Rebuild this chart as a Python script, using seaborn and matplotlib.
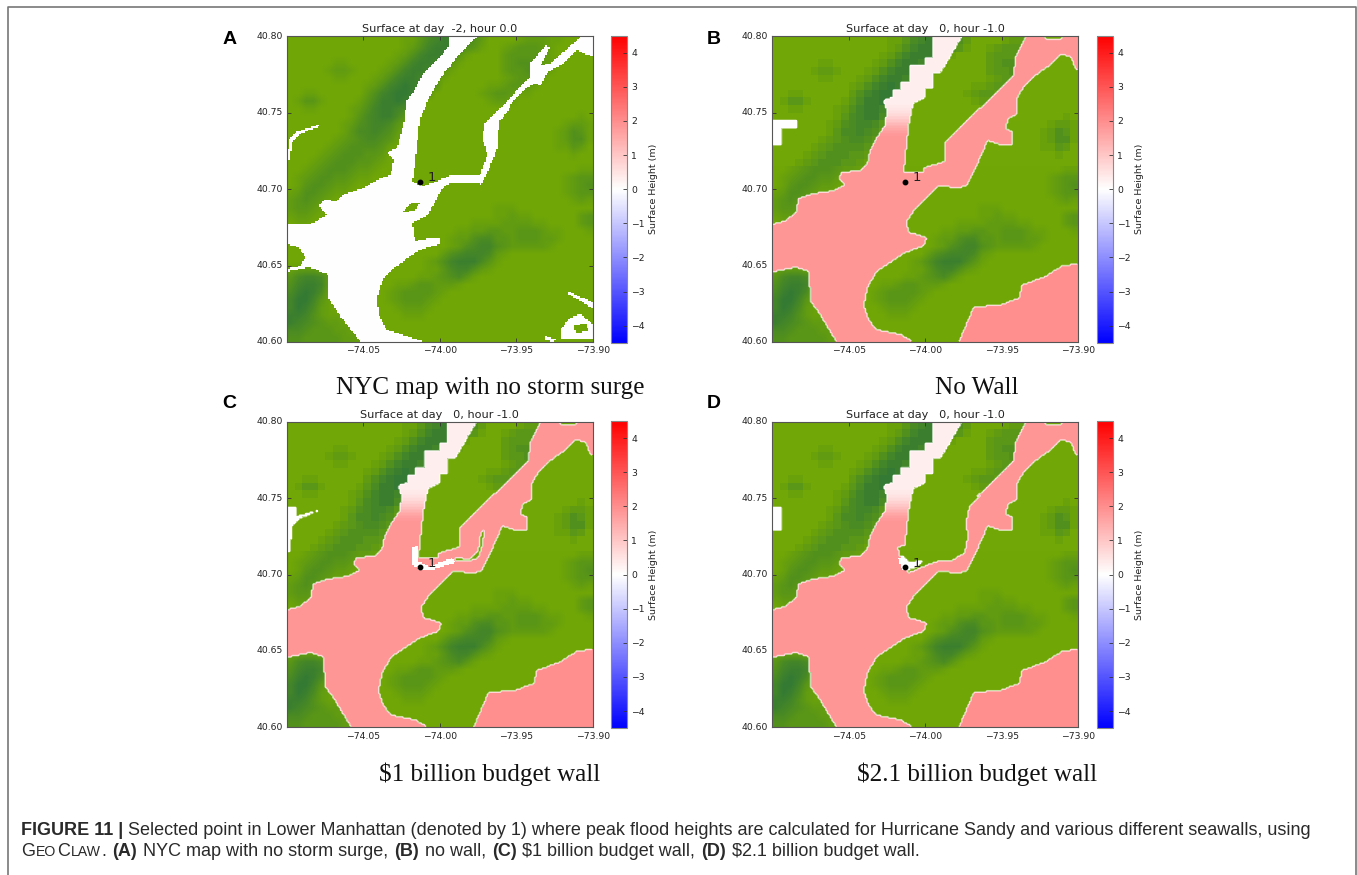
import numpy as np
import seaborn as sns
import matplotlib
matplotlib.use("Agg")
import matplotlib.pyplot as plt
from matplotlib.colors import LinearSegmentedColormap
from matplotlib.lines import Line2D
from matplotlib.path import Path

W, H = 1357, 875
N = 200      # water cells per side
COARSE = 40  # land cells per side

# land shade, 0 = light green, 9 = dark green, north at the top
land_rows = [
    "1111111111 1111122467 8886531111 2333221111",
    "1111111111 1111123578 8875421123 4443211111",
    "1111111111 1111235788 8742111134 4443211111",
    "1111112211 1112357887 6421111134 5543211111",
    "1111123321 1123578876 4211111134 4543211111",
    "1111112211 1235788764 2111111123 4432111111",
    "1111111111 2357898764 1111112234 4321111111",
    "1122111111 3578998641 1111123443 2211111111",
    "1244211112 4688987411 1111112332 1111111111",
    "1122111123 5788764111 1111111111 1111111111",
    "1111111124 6788642111 1111111111 1111111121",
    "1111111235 6776421111 1111111111 1111112332",
    "1111111246 6765311111 1111111111 1111123542",
    "1111112345 6654211111 1111111111 1111123552",
    "1111123455 5542111111 1111111111 1111122431",
    "1111234555 4431111111 1111111111 1111111211",
    "1112345554 4321111111 1111111111 1111111111",
    "1123455543 3211111111 1111111111 1111111122",
    "1234554432 2111111111 1111111111 1111112344",
    "1245543321 1111111111 1111111111 1111112345",
    "2355432211 1111111111 1111111111 1111112344",
    "3454321111 1111111111 1111111111 1111111232",
    "3443211111 1111111111 1111111222 1111111111",
    "2332111111 1111111111 1111111223 2211111134",
    "1221111111 1111111111 1111222233 3322111134",
    "1111111111 1111111111 1122334433 4443221112",
    "1111111111 1111111111 1233566443 4443321111",
    "1111111111 1111111111 1235677543 3333211111",
    "1111111111 1111111111 3567776321 1111111111",
    "1111111111 1111111123 5788864211 1111111111",
    "2333211111 1111111122 4677532111 1111111111",
    "4677631111 1111111223 4564211111 1111111111",
    "5788731111 1111223443 3321111111 1111111111",
    "6898621111 1112344443 2111111111 1111111111",
    "7997421111 1112344432 1111111111 1111111111",
    "7986321111 1111233321 1111111111 1111111111",
    "8875322111 1111122211 1111111111 1111111111",
    "8765433211 1111111111 1111111111 1111111111",
    "6654443321 1111111111 1111111111 1111111111",
    "5544444332 1111111111 1111111111 1111111111",
]

# surface height in the upper Hudson, north to south, one value per water row
hudson_surge = [0.3] * 44 + [0.33, 0.36, 0.4, 0.45, 0.5, 0.56, 0.63, 0.7, 0.78, 0.86, 0.95, 1.05,
                             1.15, 1.25, 1.35, 1.45, 1.55, 1.63, 1.7, 1.76, 1.8]
hudson_edge_rows = 40     # the upper Hudson reaches further east above this water row
hudson_east = [-73.965, -74.0]
bay_surge = 1.85
jamaica_surge = 2.0

# shoreline with no storm, (lon, lat)
dry_water = [
    (-73.994, 40.800), (-73.994, 40.794), (-74.000, 40.786), (-74.011, 40.776), (-74.017, 40.764),
    (-74.022, 40.757), (-74.023, 40.746), (-74.025, 40.738), (-74.028, 40.727), (-74.034, 40.724),
    (-74.030, 40.720), (-74.032, 40.709), (-74.041, 40.706), (-74.052, 40.700), (-74.064, 40.696),
    (-74.067, 40.692), (-74.076, 40.693), (-74.079, 40.689), (-74.074, 40.683), (-74.085, 40.677),
    (-74.100, 40.677), (-74.100, 40.646), (-74.085, 40.649), (-74.073, 40.644), (-74.073, 40.629),
    (-74.065, 40.617), (-74.052, 40.600), (-74.011, 40.600), (-74.022, 40.604), (-74.035, 40.608),
    (-74.040, 40.618), (-74.041, 40.629), (-74.037, 40.642), (-74.028, 40.650), (-74.015, 40.659),
    (-74.008, 40.662), (-74.000, 40.664), (-74.000, 40.668), (-74.007, 40.668), (-74.016, 40.666),
    (-74.018, 40.678), (-74.008, 40.683), (-73.998, 40.701), (-73.993, 40.704), (-73.975, 40.704),
    (-73.973, 40.703), (-73.969, 40.711), (-73.962, 40.727), (-73.962, 40.733), (-73.961, 40.744),
    (-73.945, 40.765), (-73.938, 40.769), (-73.934, 40.768), (-73.930, 40.776), (-73.921, 40.781),
    (-73.910, 40.791), (-73.904, 40.788), (-73.900, 40.787), (-73.900, 40.800), (-73.907, 40.800),
    (-73.919, 40.790), (-73.928, 40.782), (-73.934, 40.781), (-73.928, 40.793), (-73.931, 40.794),
    (-73.941, 40.782), (-73.941, 40.774), (-73.960, 40.753), (-73.971, 40.743), (-73.972, 40.733),
    (-73.969, 40.722), (-73.974, 40.709), (-73.993, 40.709), (-74.002, 40.705), (-74.011, 40.702),
    (-74.018, 40.705), (-74.017, 40.709), (-74.015, 40.727), (-74.013, 40.746), (-74.008, 40.758),
    (-74.000, 40.772), (-73.990, 40.785), (-73.976, 40.800),
]
dry_newark = [(-74.100, 40.719), (-74.099, 40.732), (-74.093, 40.738), (-74.079, 40.742), (-74.079, 40.741),
              (-74.092, 40.736), (-74.097, 40.730), (-74.098, 40.719)]
dry_rockaway = [(-73.917, 40.632), (-73.915, 40.633), (-73.900, 40.626), (-73.900, 40.622), (-73.910, 40.628)]
dry_marsh = [(-73.921, 40.608), (-73.915, 40.616), (-73.908, 40.618), (-73.900, 40.612), (-73.900, 40.602),
             (-73.921, 40.602)]
dry_sliver = [(-73.931, 40.604), (-73.923, 40.601), (-73.926, 40.600), (-73.931, 40.601)]
land_governors = [(-74.024, 40.685), (-74.018, 40.691), (-74.013, 40.691), (-74.016, 40.686)]
land_lump = [(-74.100, 40.664), (-74.092, 40.662), (-74.088, 40.655), (-74.091, 40.650), (-74.100, 40.648)]
land_river = [(-73.954, 40.755), (-73.943, 40.767), (-73.942, 40.766), (-73.953, 40.753)]
land_marsh = [(-73.912, 40.611), (-73.904, 40.612), (-73.903, 40.607), (-73.911, 40.606)]

# flooded shoreline, (lon, lat)
flood_water = [
    (-73.995, 40.800), (-73.995, 40.786), (-74.000, 40.786), (-74.000, 40.781), (-74.010, 40.781),
    (-74.010, 40.770), (-74.016, 40.770), (-74.016, 40.765), (-74.021, 40.765), (-74.021, 40.760),
    (-74.027, 40.758), (-74.025, 40.751), (-74.026, 40.742), (-74.032, 40.733), (-74.036, 40.725),
    (-74.038, 40.716), (-74.043, 40.712), (-74.055, 40.711), (-74.056, 40.707), (-74.052, 40.703),
    (-74.060, 40.699), (-74.073, 40.697), (-74.083, 40.694), (-74.084, 40.685), (-74.092, 40.679),
    (-74.100, 40.677), (-74.100, 40.646), (-74.084, 40.649), (-74.076, 40.646), (-74.075, 40.627),
    (-74.068, 40.617), (-74.058, 40.600), (-74.008, 40.600), (-74.016, 40.605), (-74.032, 40.608),
    (-74.037, 40.615), (-74.040, 40.624), (-74.038, 40.635), (-74.032, 40.646), (-74.014, 40.658),
    (-74.001, 40.663), (-73.999, 40.668), (-74.011, 40.672), (-74.012, 40.679), (-74.008, 40.685),
    (-73.999, 40.695), (-73.991, 40.702), (-73.978, 40.701), (-73.973, 40.702), (-73.967, 40.714),
    (-73.959, 40.732), (-73.951, 40.729), (-73.943, 40.729), (-73.943, 40.738), (-73.947, 40.739),
    (-73.946, 40.746), (-73.940, 40.749), (-73.940, 40.759), (-73.935, 40.768), (-73.927, 40.775),
    (-73.916, 40.783), (-73.911, 40.788), (-73.905, 40.787), (-73.901, 40.778), (-73.900, 40.778),
    (-73.900, 40.800), (-73.910, 40.800), (-73.911, 40.798), (-73.920, 40.798), (-73.922, 40.800),
    (-73.934, 40.800), (-73.941, 40.786), (-73.942, 40.774), (-73.951, 40.765), (-73.964, 40.753),
    (-73.979, 40.738), (-73.987, 40.731), (-73.987, 40.718), (-74.001, 40.714), (-74.001, 40.711),
    (-74.014, 40.711), (-74.011, 40.740), (-74.008, 40.756), (-74.000, 40.760), (-74.000, 40.766),
    (-73.995, 40.766), (-73.995, 40.776), (-73.990, 40.776), (-73.976, 40.800),
]
flood_jamaica = [(-73.900, 40.651), (-73.910, 40.650), (-73.921, 40.643), (-73.937, 40.637), (-73.938, 40.629),
                 (-73.951, 40.624), (-73.968, 40.623), (-73.978, 40.600), (-73.900, 40.600)]

newark_b = [(-74.099, 40.745), (-74.084, 40.745), (-74.084, 40.740), (-74.094, 40.740), (-74.094, 40.729),
            (-74.100, 40.729), (-74.100, 40.745)]
newark_c = [(-74.100, 40.744), (-74.094, 40.744), (-74.094, 40.738), (-74.079, 40.742), (-74.091, 40.737),
            (-74.097, 40.731), (-74.098, 40.715), (-74.100, 40.715)]
newark_d = [(-74.100, 40.744), (-74.094, 40.744), (-74.094, 40.729), (-74.100, 40.729)]

# what the walls keep dry
wall_c_land = [(-73.990, 40.711), (-73.980, 40.710), (-73.975, 40.715), (-73.973, 40.728), (-73.971, 40.729),
               (-73.972, 40.719), (-73.975, 40.711), (-73.980, 40.709), (-73.990, 40.709)]
wall_c_dry = [(-74.018, 40.718), (-74.014, 40.719), (-74.0135, 40.708), (-74.007, 40.705), (-73.992, 40.711),
              (-73.990, 40.708), (-74.004, 40.703), (-74.013, 40.703), (-74.018, 40.706)]
wall_d_land = [(-73.962, 40.753), (-73.971, 40.744), (-73.973, 40.734), (-73.972, 40.724), (-73.974, 40.714),
               (-73.983, 40.709), (-73.990, 40.709), (-73.999, 40.706), (-74.011, 40.701), (-74.015, 40.706),
               (-74.018, 40.718), (-74.014, 40.719), (-73.990, 40.740)]
wall_d_dry = [(-74.018, 40.711), (-74.014, 40.712), (-74.011, 40.708), (-74.001, 40.709), (-74.005, 40.705),
              (-74.011, 40.703), (-74.015, 40.703)]

gauge_lon, gauge_lat = -74.013, 40.705
lon_ticks = [-74.05, -74.00, -73.95, -73.90]
lat_ticks = [40.60, 40.65, 40.70, 40.75, 40.80]
cbar_ticks = [-4, -3, -2, -1, 0, 1, 2, 3, 4]

titles = ["Surface at day  -2, hour 0.0", "Surface at day   0, hour -1.0",
          "Surface at day   0, hour -1.0", "Surface at day   0, hour -1.0"]
captions = ["NYC map with no storm surge", "No Wall", "$1 billion budget wall", "$2.1 billion budget wall"]
letters = ["A", "B", "C", "D"]


def lon_cell(lon):
    return (np.asarray(lon) + 74.10) / 0.2 * N


def lat_cell(lat):
    return (40.80 - np.asarray(lat)) / 0.2 * N


def inside(outline):
    pts = np.array(outline)
    path = Path(np.column_stack([lon_cell(pts[:, 0]), lat_cell(pts[:, 1])]))
    xx, yy = np.meshgrid(np.arange(N) + 0.5, np.arange(N) + 0.5)
    return path.contains_points(np.column_stack([xx.ravel(), yy.ravel()])).reshape(N, N)


def flood_surface(newark, land=(), dry=()):
    grid = np.full((N, N), np.nan)
    grid[inside(flood_water)] = bay_surge
    for row, value in enumerate(hudson_surge):
        east = hudson_east[0] if row < hudson_edge_rows else hudson_east[1]
        block = grid[row, :int(lon_cell(east))]
        block[~np.isnan(block)] = value
    grid[inside(flood_jamaica)] = jamaica_surge
    grid[inside(newark)] = 0
    for outline in land:
        grid[inside(outline)] = np.nan
    for outline in dry:
        grid[inside(outline)] = 0
    return grid


def dry_surface():
    grid = np.full((N, N), np.nan)
    for outline in [dry_water, dry_newark, dry_rockaway, dry_marsh, dry_sliver]:
        grid[inside(outline)] = 0
    for outline in [land_governors, land_lump, land_river, land_marsh]:
        grid[inside(outline)] = np.nan
    return grid


surfaces = [dry_surface(), flood_surface(newark_b),
            flood_surface(newark_c, [wall_c_land], [wall_c_dry]),
            flood_surface(newark_d, [wall_d_land], [wall_d_dry])]
halos = [False, True, True, True]
smooth_from = [0, 17, 17, 17]

terrain = np.array([[int(c) for c in r.replace(" ", "")] for r in land_rows], dtype=float)
land_cmap = LinearSegmentedColormap.from_list("land", ["#78ac00", "#347a34"])

# pixel boxes of the panels: axes left, top, colorbar left
panels = [(287, 36.3, 611.3), (772.3, 36.3, 1097), (287, 421.7, 611.3), (772.3, 421.7, 1097)]
caption_x = [490.5, 977, 490, 977]
caption_y = [388.5, 388.5, 774, 774]
letter_x = [229.5, 713.5, 229.5, 713.5]
letter_y = [39.5, 39.5, 403.5, 403.5]

fig = plt.figure(figsize=(W / 100, H / 100), dpi=100)
plt.rcParams["font.family"] = "DejaVu Sans"


def box(left, top, width, height):
    return [left / W, 1 - (top + height) / H, width / W, height / H]


for i in range(4):
    left, top, cbar_left = panels[i]
    ax = fig.add_axes(box(left, top, 305.7, 305.7))
    cax = fig.add_axes(box(cbar_left, top - 0.7, 16, 307.2))

    step = N // COARSE
    sns.heatmap(np.repeat(np.repeat(terrain, step, axis=0), step, axis=1), ax=ax, cmap=land_cmap,
                vmin=0, vmax=9, cbar=False, xticklabels=False, yticklabels=False)
    r0 = smooth_from[i]
    ax.imshow(terrain[r0:], cmap=land_cmap, vmin=0, vmax=9, interpolation="bilinear", aspect="auto",
              extent=(0, N, N, r0 * step), zorder=1.5)
    sns.heatmap(surfaces[i], ax=ax, cmap="bwr", vmin=-4.5, vmax=4.5, cbar_ax=cax,
                xticklabels=False, yticklabels=False)
    water_mesh = ax.collections[-1]
    water_mesh.set_zorder(2)

    if halos[i]:
        centres = np.arange(N) + 0.5
        ax.contour(centres, centres, (~np.isnan(surfaces[i])).astype(float), levels=[0.5],
                   colors="white", linewidths=1.1, alpha=0.65, zorder=2.2)

    ax.plot(lon_cell(gauge_lon), lat_cell(gauge_lat), "o", color="black", ms=3.2, zorder=3)
    ax.text(lon_cell(gauge_lon + 0.005), lat_cell(gauge_lat + 0.0025), "1", fontsize=9.5, va="center",
            color="#222222", zorder=3)

    ax.set_xlim(0, N)
    ax.set_ylim(N, 0)
    ax.set_xticks(lon_cell(lon_ticks))
    ax.set_xticklabels(["\u2212%.2f" % abs(v) for v in lon_ticks])
    ax.set_yticks(lat_cell(lat_ticks))
    ax.set_yticklabels(["%.2f" % v for v in lat_ticks], rotation=0, va="center")
    ax.tick_params(direction="in", length=3, width=0.6, labelsize=6.7, top=True, right=True,
                   color="#333333", labelcolor="#222222", pad=3)
    for s in ax.spines.values():
        s.set_visible(True)
        s.set_linewidth(0.8)
        s.set_color("#555555")
    ax.set_title(titles[i], fontsize=8.1, pad=3, color="#222222")

    cb = water_mesh.colorbar
    cb.set_ticks(cbar_ticks)
    cb.set_ticklabels([str(t).replace("-", "\u2212") for t in cbar_ticks])
    cb.ax.tick_params(direction="in", length=3, width=0.6, labelsize=6.7, color="#333333",
                      labelcolor="#222222", pad=3)
    cb.outline.set_linewidth(0.8)
    cb.outline.set_edgecolor("#888888")
    cb.set_label("Surface Height (m)", fontsize=6.8, labelpad=3, color="#222222")

    fig.text(caption_x[i] / W, 1 - caption_y[i] / H, captions[i], family="Liberation Serif",
             fontsize=18.1, ha="center", va="center", color="#111111")
    fig.text(letter_x[i] / W, 1 - letter_y[i] / H, letters[i], family="Liberation Sans", weight="bold",
             fontsize=14, ha="center", va="center", color="black")

# frame round the whole figure, open at the bottom
frame_x = [7.5 / W, 7.5 / W, 1356 / W, 1356 / W]
frame_y = [0, 1 - 6.5 / H, 1 - 6.5 / H, 0]
fig.add_artist(Line2D(frame_x, frame_y, transform=fig.transFigure, color="#777777", lw=1.2))

renderer = fig.canvas.get_renderer()


def write_runs(x, y, runs):
    for text, size, weight, gap in runs:
        t = fig.text(x / W, 1 - y / H, text, family="Liberation Sans", fontsize=size, weight=weight,
                     va="baseline", color="#2a2a2a")
        x += t.get_window_extent(renderer).width + gap
    return x


caption_size = 13.0
write_runs(21, 835, [("FIGURE 11 |", caption_size, "bold", 5),
                     ("Selected point in Lower Manhattan (denoted by 1) where peak flood heights are calculated "
                      "for Hurricane Sandy and various different seawalls, using", caption_size, "normal", 0)])
write_runs(21, 856, [("G", caption_size, "normal", 1), ("EO", caption_size * 0.78, "normal", 1),
                     ("C", caption_size, "normal", 1), ("LAW", caption_size * 0.78, "normal", 0),
                     (".", caption_size, "normal", 6), ("(A)", caption_size, "bold", 6),
                     ("NYC map with no storm surge,", caption_size, "normal", 6), ("(B)", caption_size, "bold", 6),
                     ("no wall,", caption_size, "normal", 6), ("(C)", caption_size, "bold", 6),
                     ("$1 billion budget wall,", caption_size, "normal", 6), ("(D)", caption_size, "bold", 6),
                     ("$2.1 billion budget wall.", caption_size, "normal", 0)])

fig.savefig("out.png", dpi=100)
